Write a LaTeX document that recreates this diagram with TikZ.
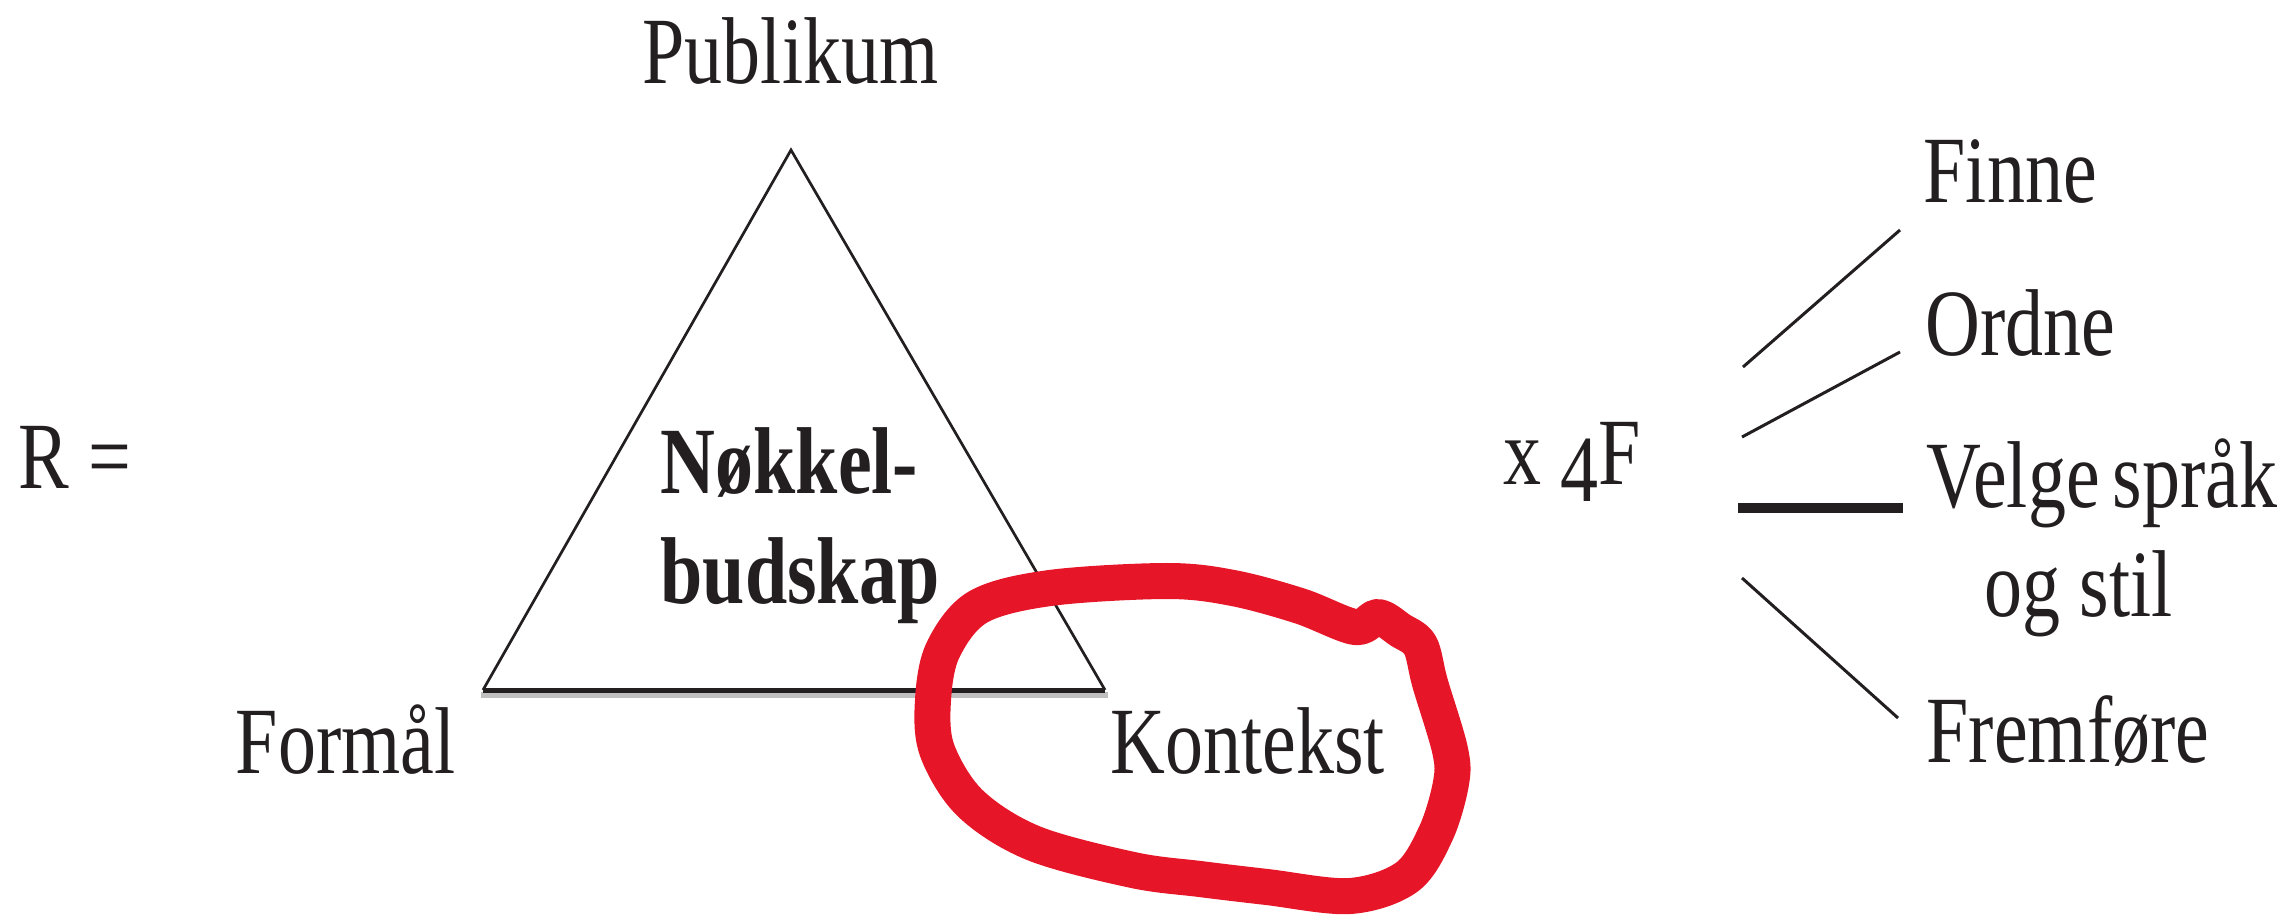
\documentclass[tikz,border=0pt]{standalone}
\usepackage{fontspec}
\setmainfont[FakeStretch=0.8]{Liberation Serif}
\usepackage{tikz}
\usetikzlibrary{calc}
\definecolor{inkdark}{RGB}{35,31,32}
\definecolor{markred}{RGB}{230,22,40}

\begin{document}
\begin{tikzpicture}[x=0.01cm,y=-0.01cm,
  lbl/.style={inner sep=0pt,anchor=base west,text=inkdark,font=\fontsize{27}{32}\selectfont}]
  \useasboundingbox (0,0) rectangle (2279,915);
  \coordinate (F) at (483,690); \coordinate (K) at (1105,690); \coordinate (P) at (791,150);
  \draw[gray!50,line width=0.06cm] ($(F)+(-2,4.5)$) -- ($(K)+(3,4.5)$);
  \draw[inkdark,line width=0.027cm] (F) -- (P) -- (K);
  \draw[inkdark,line width=0.05cm] (F) -- (K);
  \node[lbl] (publikum) at (642,83) {Publikum};
  \node[lbl,anchor=base east] (formal) at (456,773) {Formål};
  \node[lbl] (kontekst) at (1110,773) {Kontekst};
  \node[lbl] (nokkel) at (660,493) {\bfseries Nøkkel-};
  \node[lbl] (budskap) at (660,603) {\bfseries budskap};
  \node[lbl] (r) at (18,488) {R =};
  \node[lbl] (xf) at (1503,484) {x \raisebox{-0.17cm}{4}F};
  \coordinate (a1) at (1743,367); \coordinate (b1) at (1900,230);
  \coordinate (a2) at (1742,437); \coordinate (b2) at (1900,352);
  \coordinate (a3) at (1738,508); \coordinate (b3) at (1903,508);
  \coordinate (a4) at (1742,578); \coordinate (b4) at (1898,718);
  \foreach \i in {1,2,4} \draw[inkdark,line width=0.03cm] (a\i) -- (b\i);
  \draw[inkdark,line width=0.1cm] (a3) -- (b3);
  \node[lbl] (finne) at (1923,202) {Finne};
  \node[lbl] (ordne) at (1925,355) {Ordne};
  \node[lbl] (velge) at (1926,507) {Velge\hspace{0.13cm}språk};
  \node[lbl] (stil) at (1984,616) {og stil};
  \node[lbl] (fremfore) at (1926,762) {Fremføre};
  \draw[markred,line width=0.36cm,line cap=round,line join=round]
    plot[smooth cycle,tension=0.55] coordinates {(978,607) (1050,588) (1167,581) (1233,588)
    (1300,606) (1355,627) (1378,617) (1400,630) (1420,645) (1430,683) (1450,750) (1451,783)
    (1436,833) (1407,877) (1350,896) (1267,887) (1200,879) (1133,870) (1033,843) (970,803)
    (937,750) (933,700) (943,650)};
\end{tikzpicture}
\end{document}
